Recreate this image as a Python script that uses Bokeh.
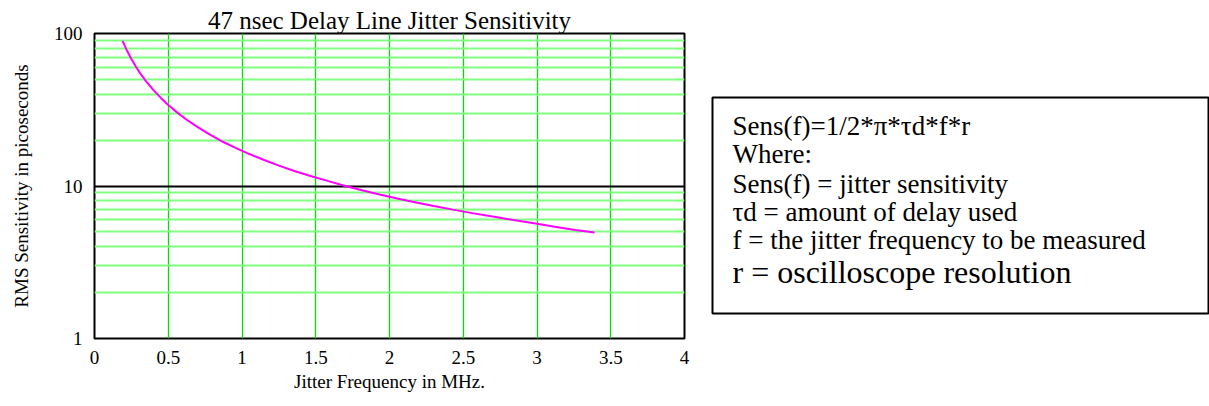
from bokeh.plotting import figure
from bokeh.models import FixedTicker, Label, Range1d, NumeralTickFormatter, BoxAnnotation
from bokeh.layouts import row
from bokeh.embed import file_html
from bokeh.resources import INLINE

# ---- data ----
freq_mhz = [0.19, 0.22, 0.25, 0.28, 0.31, 0.35, 0.40, 0.45, 0.50, 0.56, 0.62,
            0.70, 0.78, 0.87, 0.96, 1.05, 1.15, 1.25, 1.36, 1.47, 1.58, 1.70,
            1.82, 1.94, 2.06, 2.18, 2.30, 2.43, 2.56, 2.70, 2.84, 2.98, 3.12,
            3.26, 3.39]
sens_ps = [89.5, 77.3, 68.0, 60.7, 54.8, 48.6, 42.5, 37.8, 34.0, 30.4, 27.4,
           24.3, 21.8, 19.5, 17.7, 16.2, 14.8, 13.6, 12.5, 11.6, 10.8, 10.0,
           9.34, 8.76, 8.25, 7.80, 7.39, 7.00, 6.64, 6.30, 5.99, 5.70, 5.40,
           5.15, 4.95]
x_ticks = [0, 0.5, 1, 1.5, 2, 2.5, 3, 3.5, 4]
y_ticks = [1, 10, 100]
y_minor_ticks = [2, 3, 4, 5, 6, 7, 8, 9, 20, 30, 40, 50, 60, 70, 80, 90]
title_text = "47 nsec Delay Line Jitter Sensitivity"
x_label = "Jitter Frequency in MHz."
y_label = "RMS Sensitivity in picoseconds"
box_lines = ["Sens(f)=1/2*\u03c0*\u03c4d*f*r",
             "Where:",
             " Sens(f) = jitter sensitivity",
             "\u03c4d = amount of delay used",
             "f = the jitter frequency to be measured",
             "r = oscilloscope resolution"]

FONT = "Liberation Serif"

p = figure(width=708, height=406, x_range=Range1d(0, 4), y_range=Range1d(1, 100),
           y_axis_type="log", output_backend="svg", toolbar_location=None,
           min_border_left=94, min_border_right=24, min_border_top=33,
           min_border_bottom=68, background_fill_color="white",
           border_fill_color="white")

p.outline_line_color = "black"
p.outline_line_width = 2

# title
p.title.text = title_text
p.title.align = "center"
p.title.text_font = FONT
p.title.text_font_size = "25px"
p.title.text_font_style = "normal"
p.title.text_color = "black"
p.title.standoff = 0

# axes
p.xaxis.ticker = FixedTicker(ticks=x_ticks)
p.yaxis.ticker = FixedTicker(ticks=y_ticks, minor_ticks=y_minor_ticks)
p.yaxis.formatter = NumeralTickFormatter(format="0")
for ax in (p.xaxis[0], p.yaxis[0]):
    ax.axis_line_color = None
    ax.major_tick_line_color = None
    ax.minor_tick_line_color = None
    ax.major_tick_out = 0
    ax.major_tick_in = 0
    ax.minor_tick_out = 0
    ax.minor_tick_in = 0
    ax.major_label_text_font = FONT
    ax.major_label_text_font_size = "19px"
    ax.major_label_text_color = "black"
    ax.axis_label_text_font = FONT
    ax.axis_label_text_font_size = "19px"
    ax.axis_label_text_font_style = "normal"
    ax.axis_label_text_color = "black"

p.xaxis.axis_label = x_label
p.xaxis.major_label_standoff = 12
p.xaxis.axis_label_standoff = 4
p.yaxis.axis_label = y_label
p.yaxis.major_label_standoff = 12
p.yaxis.axis_label_standoff = 19

# grids
p.xgrid.grid_line_color = "#00e000"
p.xgrid.grid_line_width = 1.3
p.ygrid.grid_line_color = "black"
p.ygrid.grid_line_width = 2
p.ygrid.minor_grid_line_color = "#80ff80"
p.ygrid.minor_grid_line_width = 2

# curve
p.line(freq_mhz, sens_ps, line_color="#ff00ff", line_width=2)

# ---- text box panel ----
q = figure(width=501, height=406, x_range=Range1d(0, 501), y_range=Range1d(305, 0),
           output_backend="svg", toolbar_location=None,
           x_axis_location=None, y_axis_location=None,
           min_border_left=0, min_border_right=0, min_border_top=33,
           min_border_bottom=68)
q.grid.visible = False
q.outline_line_color = None

q.add_layout(BoxAnnotation(left=4, right=500, top=64, bottom=280,
                           fill_alpha=0, line_color="black", line_alpha=1.0,
                           line_width=2))

line_y = [92, 120, 150, 178, 206, 238]
line_size = ["27px", "27px", "27px", "27px", "27px", "32px"]
for txt, yy, fs in zip(box_lines, line_y, line_size):
    q.add_layout(Label(x=24, y=yy, text=txt, text_font=FONT, text_font_size=fs,
                       text_baseline="middle", text_align="left",
                       text_color="black"))

layout = row(p, q)
open("out.html", "w").write(file_html(layout, INLINE))
